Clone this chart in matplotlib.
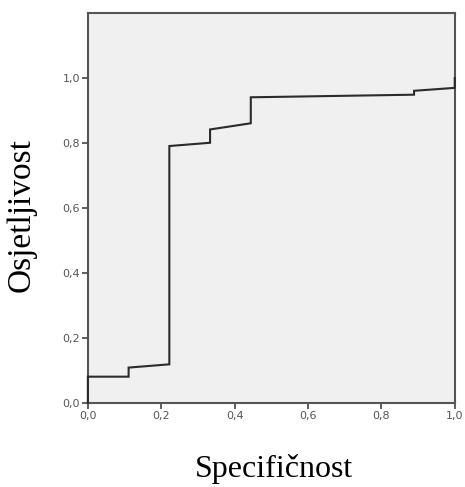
import matplotlib
matplotlib.use('Agg')
import matplotlib.pyplot as plt
from matplotlib.ticker import FuncFormatter

# ROC curve points
spec = [0.0, 0.0, 0.111, 0.111, 0.222, 0.222, 0.333, 0.333, 0.444, 0.444, 0.889, 0.889, 1.0, 1.0]
sens = [0.0, 0.081, 0.081, 0.109, 0.119, 0.791, 0.801, 0.842, 0.861, 0.941, 0.949, 0.961, 0.970, 1.0]

x_ticks = [0.0, 0.2, 0.4, 0.6, 0.8, 1.0]
y_ticks = [0.0, 0.2, 0.4, 0.6, 0.8, 1.0]

fig = plt.figure(figsize=(4.65, 4.87), dpi=100)
ax = fig.add_axes([0.189, 0.1725, 0.789, 0.8005])

ax.set_facecolor('#f0f0f0')
ax.plot(spec, sens, color='#2b2b2b', linewidth=1.5, solid_joinstyle='miter',
        clip_on=False, zorder=3)

ax.set_xlim(0, 1.0)
ax.set_ylim(0, 1.2)
ax.set_xticks(x_ticks)
ax.set_yticks(y_ticks)

comma = FuncFormatter(lambda v, p: ('%.1f' % v).replace('.', ','))
ax.xaxis.set_major_formatter(comma)
ax.yaxis.set_major_formatter(comma)

ax.tick_params(direction='out', length=4, width=1.2, color='#444444',
               labelsize=8, labelcolor='#555555', pad=1.5)
for s in ax.spines.values():
    s.set_color('#555555')
    s.set_linewidth(1.5)

fig.text(0.047, 0.558, 'Osjetljivost', rotation=90, ha='center', va='center',
         family='Liberation Serif', fontsize=24)
fig.text(0.59, 0.037, 'Specifičnost', ha='center', va='center',
         family='Liberation Serif', fontsize=23)

fig.savefig('out.png', dpi=100)
